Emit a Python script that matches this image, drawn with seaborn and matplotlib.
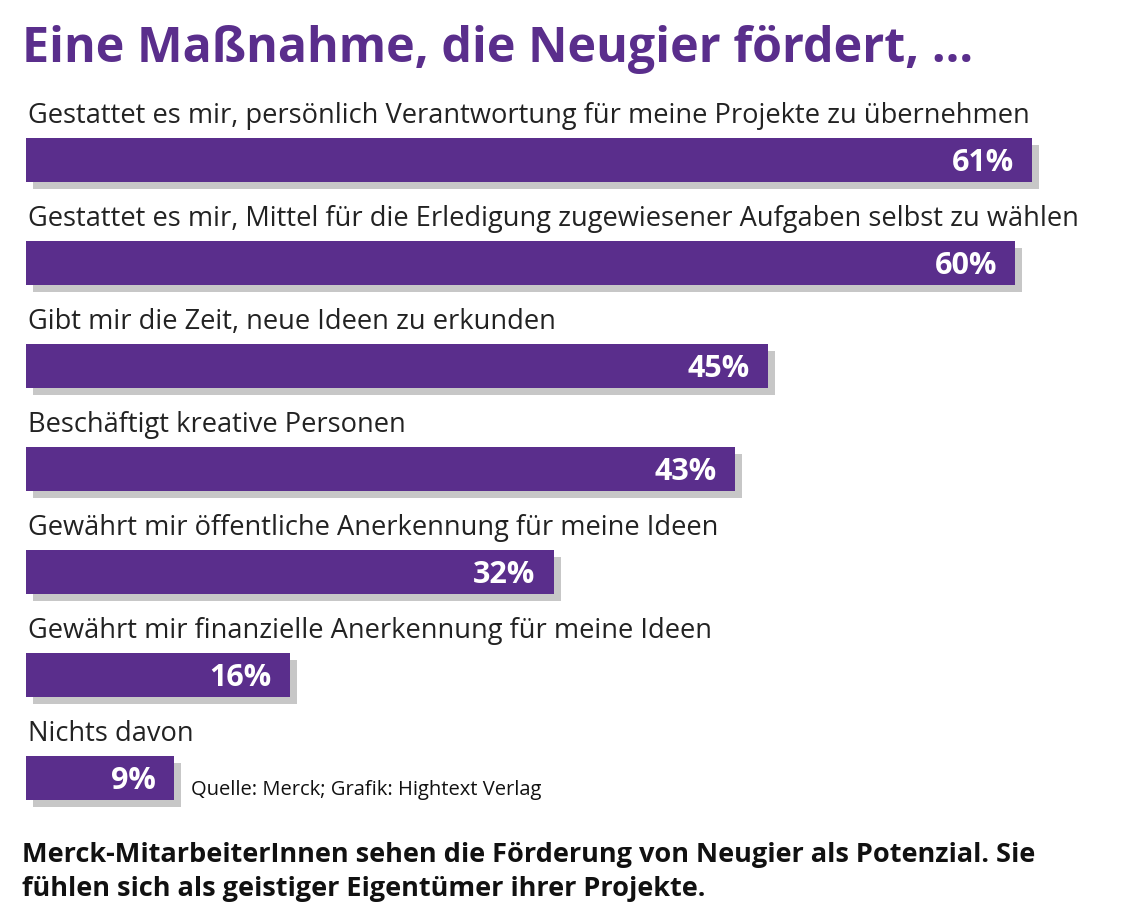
import matplotlib
matplotlib.use("Agg")
import matplotlib.pyplot as plt
import matplotlib.patheffects as pe
import pandas as pd
import seaborn as sns

sns.set_style("white")
plt.rcParams["font.family"] = ["Open Sans", "DejaVu Sans"]

title = "Eine Maßnahme, die Neugier fördert, ..."
labels = [
    "Gestattet es mir, persönlich Verantwortung für meine Projekte zu übernehmen",
    "Gestattet es mir, Mittel für die Erledigung zugewiesener Aufgaben selbst zu wählen",
    "Gibt mir die Zeit, neue Ideen zu erkunden",
    "Beschäftigt kreative Personen",
    "Gewährt mir öffentliche Anerkennung für meine Ideen",
    "Gewährt mir finanzielle Anerkennung für meine Ideen",
    "Nichts davon",
]
values = [61, 60, 45, 43, 32, 16, 9]
source = "Quelle: Merck; Grafik: Hightext Verlag"
footer = ("Merck-MitarbeiterInnen sehen die Förderung von Neugier als Potenzial. Sie\n"
          "fühlen sich als geistiger Eigentümer ihrer Projekte.")

purple = "#5a2e8c"
df = pd.DataFrame({"label": labels, "value": values})

fig = plt.figure(figsize=(11.3, 9.23), dpi=100)
ax = fig.add_axes([0, 0, 1, 1])
sns.barplot(data=df, x="value", y="label", orient="h", color=purple,
            saturation=1, width=0.43, linewidth=0, ax=ax)
for p in ax.patches:
    p.set_path_effects([pe.SimplePatchShadow(offset=(5, -5), shadow_rgbFace="#999999", alpha=0.55),
                        pe.Normal()])

px = 16.49
ax.set_xlim(-26 / px, (1130 - 26) / px)
ax.set_ylim((923 - 160) / 103, -160 / 103)
ax.axis("off")

for i, (lab, v) in enumerate(zip(labels, values)):
    ax.text(0.1, i - 0.43, lab, fontsize=19.6, color="#222222", va="center", ha="left")
    ax.text(v - 1.1, i + 0.03, f"{v}%", fontsize=22, color="white",
            fontweight="bold", va="center", ha="right")

ax.text(10, 6.12, source, fontsize=14.5, color="#111111", va="center", ha="left")
fig.text(22 / 1130, 1 - 50 / 923, title, fontsize=34.8, fontweight="bold",
         color=purple, va="center", ha="left")
fig.text(22 / 1130, 1 - 872 / 923, footer, fontsize=19.5, fontweight="bold",
         color="#111111", va="center", ha="left", linespacing=1.35)

fig.savefig("out.png", dpi=100)
